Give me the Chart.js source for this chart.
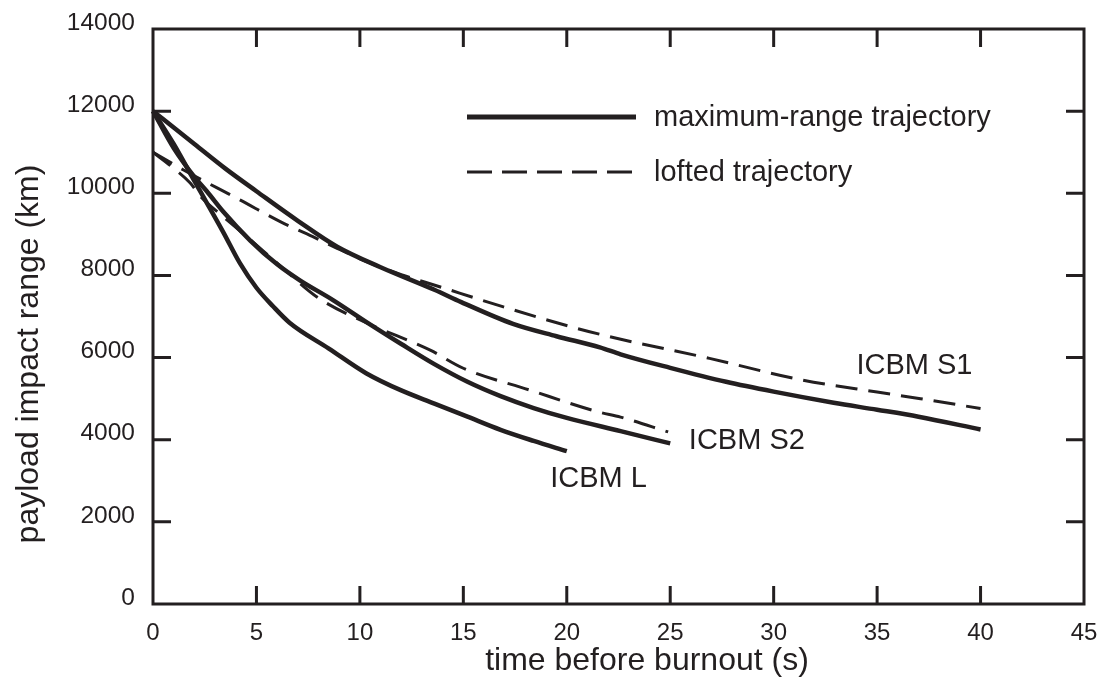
<!DOCTYPE html>
<html>
<head>
<meta charset="utf-8">
<script src="https://cdn.jsdelivr.net/npm/chart.js@4/dist/chart.umd.min.js"></script>
<style>
  html, body { margin: 0; padding: 0; background: #fff; }
  #wrap { width: 1103px; height: 694px; }
</style>
</head>
<body>
<div id="wrap"><canvas id="rangeChart"></canvas></div>
<script>
// values (time before burnout in s, range in km)
const timeS1Max = [0, 1, 2, 3.5, 5, 7, 8.9, 11, 13.6, 14.9, 17.4, 19.5, 21.6, 22.6, 25, 27.7, 30, 32.9, 35, 37, 40];
const rangeS1Max = [12000, 11600, 11200, 10600, 10050, 9330, 8700, 8200, 7650, 7350, 6820, 6520, 6250, 6080, 5750, 5410, 5170, 4900, 4730, 4560, 4250];

const timeS1Loft = [0, 1.5, 3.1, 4.2, 6.15, 7.7, 8.9, 10.5, 12, 13.7, 16.9, 20.2, 22.4, 26.9, 31.3, 35, 37.1, 40];
const rangeS1Loft = [11000, 10560, 10130, 9840, 9310, 8950, 8660, 8300, 8020, 7750, 7240, 6750, 6470, 5980, 5460, 5160, 5000, 4760];

const timeS2Max = [0, 1, 2, 2.6, 3.4, 4.7, 6, 7.1, 8.7, 10.3, 12, 13.6, 15.2, 16.8, 18.4, 20, 22.6, 25];
const rangeS2Max = [12000, 11100, 10400, 10050, 9550, 8850, 8270, 7880, 7400, 6870, 6330, 5840, 5410, 5060, 4770, 4530, 4210, 3910];

const timeS2Loft = [0, 0.9, 1.8, 2.3, 3.4, 4.7, 6, 8, 10.3, 13.4, 15, 18.2, 21.5, 22.6, 24.9];
const rangeS2Loft = [11000, 10650, 10250, 9920, 9430, 8870, 8300, 7450, 6850, 6180, 5740, 5210, 4680, 4550, 4190];

const timeLMax = [0, 1, 2, 3.4, 4.2, 5, 5.8, 6.6, 8.5, 10.3, 12, 13.6, 15.2, 16.8, 18.4, 20];
const rangeLMax = [12000, 11200, 10300, 9050, 8300, 7700, 7250, 6850, 6220, 5620, 5200, 4880, 4560, 4240, 3970, 3720];

const curveLabels = ["ICBM S1", "ICBM S2", "ICBM L"];
const curveLabelAt = [[34.0, 5600], [25.9, 3770], [19.2, 2850]];
const legendTexts = ["maximum-range trajectory", "lofted trajectory"];
const xTitle = "time before burnout (s)";
const yTitle = "payload impact range (km)";

const ink = "#231f20";
const font = '"Liberation Sans", Arial, Helvetica, sans-serif';
const tickLen = 18;

function pts(xs, ys) {
  return xs.map((v, i) => ({ x: v, y: ys[i] }));
}

function line(label, xs, ys, dashed) {
  return {
    label: label,
    data: pts(xs, ys),
    borderColor: ink,
    borderWidth: dashed ? 3 : 4.5,
    borderDash: dashed ? [22, 11] : [],
    pointRadius: 0,
    fill: false,
    cubicInterpolationMode: "monotone",
    clip: false,
  };
}

const overlay = {
  id: "overlay",
  afterDraw(chart) {
    const { ctx, chartArea: a, scales } = chart;
    const x = scales.x, y = scales.y;
    ctx.save();
    ctx.strokeStyle = ink;
    ctx.fillStyle = ink;
    ctx.lineWidth = 3;
    ctx.setLineDash([]);
    ctx.strokeRect(a.left, a.top, a.right - a.left, a.bottom - a.top);

    // inward ticks on all four sides
    ctx.beginPath();
    x.ticks.forEach((t) => {
      if (t.value <= x.min || t.value >= x.max) return;
      const px = x.getPixelForValue(t.value);
      ctx.moveTo(px, a.bottom);
      ctx.lineTo(px, a.bottom - tickLen);
      ctx.moveTo(px, a.top);
      ctx.lineTo(px, a.top + tickLen);
    });
    y.ticks.forEach((t) => {
      if (t.value <= y.min || t.value >= y.max) return;
      const py = y.getPixelForValue(t.value);
      ctx.moveTo(a.left, py);
      ctx.lineTo(a.left + tickLen, py);
      ctx.moveTo(a.right, py);
      ctx.lineTo(a.right - tickLen, py);
    });
    ctx.stroke();

    // legend
    ctx.lineWidth = 5;
    ctx.beginPath();
    ctx.moveTo(467, 117);
    ctx.lineTo(636, 117);
    ctx.stroke();
    ctx.lineWidth = 3;
    ctx.setLineDash([25, 10]);
    ctx.beginPath();
    ctx.moveTo(467, 172);
    ctx.lineTo(632, 172);
    ctx.stroke();
    ctx.setLineDash([]);

    ctx.font = "29px " + font;
    ctx.textAlign = "left";
    ctx.textBaseline = "alphabetic";
    ctx.fillText(legendTexts[0], 654, 126);
    ctx.fillText(legendTexts[1], 654, 181);

    // curve labels
    curveLabels.forEach((txt, i) => {
      const p = curveLabelAt[i];
      ctx.fillText(txt, x.getPixelForValue(p[0]), y.getPixelForValue(p[1]));
    });

    // axis titles
    ctx.textAlign = "center";
    ctx.textBaseline = "middle";
    ctx.font = "32px " + font;
    ctx.fillText(xTitle, 647, 661);
    ctx.translate(29, 354);
    ctx.rotate(-Math.PI / 2);
    ctx.fillText(yTitle, 0, 0);
    ctx.restore();
  },
};

new Chart(document.getElementById("rangeChart"), {
  type: "line",
  data: {
    datasets: [
      line("ICBM S1 maximum-range", timeS1Max, rangeS1Max, false),
      line("ICBM S1 lofted", timeS1Loft, rangeS1Loft, true),
      line("ICBM S2 maximum-range", timeS2Max, rangeS2Max, false),
      line("ICBM S2 lofted", timeS2Loft, rangeS2Loft, true),
      line("ICBM L maximum-range", timeLMax, rangeLMax, false),
    ],
  },
  options: {
    responsive: true,
    maintainAspectRatio: false,
    animation: false,
    layout: { padding: { left: 0, right: 19, top: 29, bottom: 0 } },
    plugins: {
      legend: { display: false },
      tooltip: { enabled: false },
    },
    scales: {
      x: {
        type: "linear",
        min: 0,
        max: 45,
        grid: { display: false, drawTicks: false },
        border: { display: false },
        ticks: {
          stepSize: 5,
          padding: 15,
          color: ink,
          font: { family: font, size: 24 },
          maxRotation: 0,
          callback: (v) => String(v),
        },
        afterFit(scale) {
          scale.height = 90;
          scale.paddingLeft = 0;
          scale.paddingRight = 0;
        },
      },
      y: {
        type: "linear",
        min: 0,
        max: 14000,
        grid: { display: false, drawTicks: false },
        border: { display: false },
        ticks: {
          stepSize: 2000,
          padding: 18,
          labelOffset: -6,
          color: ink,
          font: { family: font, size: 24.5 },
          callback: (v) => String(v),
        },
        afterFit(scale) {
          scale.width = 153;
          scale.paddingTop = 0;
          scale.paddingBottom = 0;
        },
      },
    },
  },
  plugins: [overlay],
});
</script>
</body>
</html>
